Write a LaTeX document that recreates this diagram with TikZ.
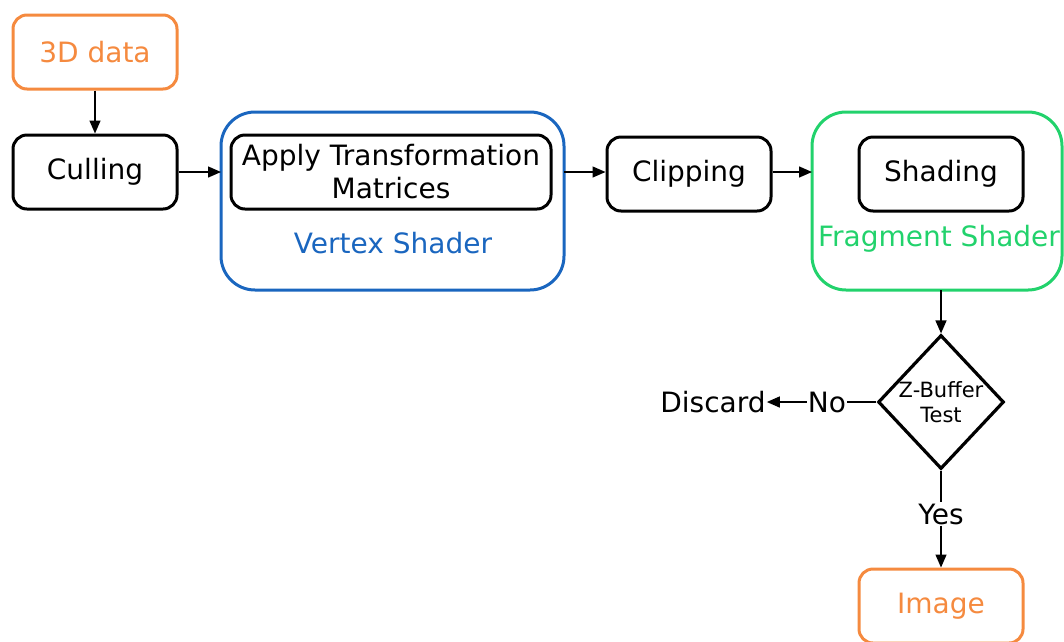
\documentclass[tikz,border=0pt]{standalone}
\usepackage{fontspec}
\setmainfont{DejaVu Sans}
\usetikzlibrary{arrows.meta,shapes.geometric}
\definecolor{dataorange}{HTML}{F58A3F}
\definecolor{vertexblue}{HTML}{1A66BF}
\definecolor{fraggreen}{HTML}{22D26C}
\tikzset{
  bigtext/.style={font=\fontsize{28}{33}\selectfont},
  stagebox/.style={draw=black, line width=3pt, rounded corners=14pt, inner sep=0pt,
    minimum width=164pt, minimum height=74pt, align=center, bigtext},
  endbox/.style={stagebox, draw=dataorange, text=dataorange},
  groupbox/.style={draw, line width=3pt, rounded corners=34pt},
  flow/.style={line width=1.4pt, -{Triangle[length=13pt,width=11pt]}},
  plain/.style={line width=1.4pt},
  lbl/.style={inner sep=1pt, bigtext},
}
\begin{document}
\begin{tikzpicture}[x=1pt,y=-1pt]
\useasboundingbox (0,0) rectangle (1064,641);
% grouping frames for the two shader stages
\draw[groupbox, draw=vertexblue] (221,112) rectangle (564,290);
\draw[groupbox, draw=fraggreen] (812,112) rectangle (1062,290);
\node[coordinate] (vsW) at (221,172) {};
\node[coordinate] (vsE) at (564,172) {};
\node[coordinate] (fsW) at (812,172) {};
\node[coordinate] (fsS) at (941,290) {};
\node[text=vertexblue, bigtext] (vslabel) at (393,243) {Vertex Shader};
\node[text=fraggreen, bigtext] (fslabel) at (939,239) {Fragment Shader};
% pipeline stages
\node[endbox] (data) at (95,52) {3D data};
\node[stagebox] (cull) at (95,172) {Culling};
\node[stagebox, minimum width=320pt] (apply) at (391,172) {Apply Transformation\\Matrices};
\node[stagebox] (clip) at (689,174) {Clipping};
\node[stagebox] (shade) at (941,174) {Shading};
\node[draw, line width=3.2pt, diamond, minimum width=122pt, minimum height=134pt, inner sep=0pt,
  align=center, font=\fontsize{21}{25}\selectfont] (zbuf) at (941,402) {Z-Buffer\\Test};
\node[lbl] (no) at (827,402) {No};
\node[lbl] (discard) at (713,402) {Discard};
\node[lbl] (yes) at (941,514) {Yes};
\node[endbox] (image) at (941,606) {Image};
% connectors
\draw[flow] (data) -- (cull);
\draw[flow] (cull.east) -- (vsW);
\draw[flow] (vsE) -- (clip.west |- vsE);
\draw[flow] (clip.east |- fsW) -- (fsW);
\draw[flow] (fsS) -- (zbuf.north);
\draw[plain] (zbuf.west) -- (no.east);
\draw[flow] (no.west) -- (discard.east);
\draw[plain] (zbuf.south) -- (yes.north);
\draw[flow] (yes.south) -- (image.north);
\end{tikzpicture}
\end{document}
